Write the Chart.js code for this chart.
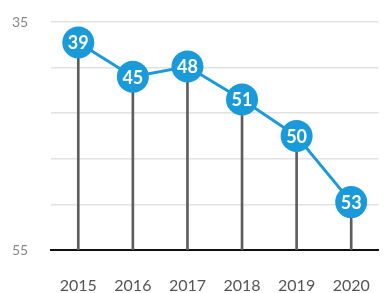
<!DOCTYPE html>
<html>
<head>
<meta charset="utf-8">
<script src="https://cdn.jsdelivr.net/npm/chart.js@4"></script>
<style>
  html, body { margin: 0; padding: 0; background: #fff; }
  #wrap { width: 388px; height: 293px; }
</style>
</head>
<body>
<div id="wrap"><canvas id="myChart"></canvas></div>
<script>
const years = ["2015", "2016", "2017", "2018", "2019", "2020"];
const positions = [36.8, 39.8, 38.9, 41.8, 45.0, 50.8];
const ranks = [39, 45, 48, 51, 50, 53];
const yTicks = [35, 55];

const blue = "#1a9ad8";

// white numbers inside the markers
const rankLabels = {
  id: "rankLabels",
  afterDatasetsDraw(chart) {
    const ctx = chart.ctx;
    const meta = chart.getDatasetMeta(1);
    ctx.save();
    ctx.fillStyle = "#fff";
    ctx.font = "bold 18px Lato, 'Open Sans', sans-serif";
    ctx.textAlign = "center";
    ctx.textBaseline = "middle";
    meta.data.forEach((pt, i) => {
      ctx.fillText(String(ranks[i]), pt.x, pt.y + 1);
    });
    ctx.restore();
  },
};

const ctx = document.getElementById("myChart").getContext("2d");
new Chart(ctx, {
  data: {
    labels: years,
    datasets: [
      {
        type: "bar",
        data: positions.map((v) => [v, 55]),
        backgroundColor: "#5e5e5e",
        barThickness: 2,
        order: 2,
      },
      {
        type: "line",
        data: positions,
        borderColor: blue,
        borderWidth: 3,
        pointRadius: 16,
        pointHoverRadius: 16,
        pointBackgroundColor: blue,
        pointBorderColor: blue,
        pointBorderWidth: 0,
        clip: false,
        order: 1,
      },
    ],
  },
  options: {
    responsive: true,
    maintainAspectRatio: false,
    animation: false,
    layout: { autoPadding: false, padding: { top: 22, right: 3, bottom: 0, left: 12 } },
    plugins: {
      legend: { display: false },
      tooltip: { enabled: false },
    },
    scales: {
      x: {
        offset: true,
        grid: { display: false },
        border: { display: true, color: "#111", width: 2 },
        ticks: {
          color: "#555",
          padding: 18,
          font: { size: 16, family: "Lato, 'Open Sans', sans-serif" },
        },
        afterFit(scale) {
          scale.height = 43;
        },
      },
      y: {
        reverse: true,
        min: 35,
        max: 55,
        border: { display: false },
        grid: { color: "#e2e2e2", lineWidth: 1.5, drawTicks: false },
        ticks: {
          stepSize: 4,
          padding: 2,
          crossAlign: "far",
          color: "#888",
          font: { size: 14, family: "Lato, 'Open Sans', sans-serif" },
          callback: (v) => (yTicks.includes(v) ? String(v) : ""),
        },
        afterFit(scale) {
          scale.width = 39;
        },
      },
    },
  },
  plugins: [rankLabels],
});
</script>
</body>
</html>
